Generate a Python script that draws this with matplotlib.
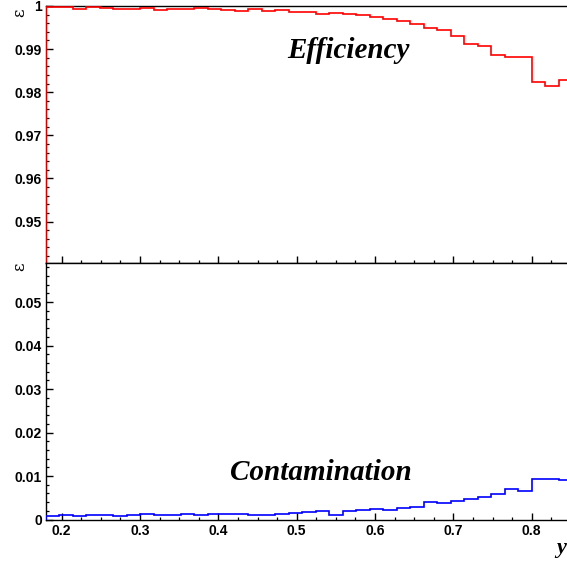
import numpy as np
import matplotlib
matplotlib.use("Agg")
import matplotlib.pyplot as plt
from matplotlib.ticker import FixedLocator, MultipleLocator, FuncFormatter

# binning in y (39 bins, first edge at 0.18)
bin_lo = 0.18
bin_width = 0.62 / 36
n_bins = 39

efficiency = [
    0.9997, 0.9997, 0.9994, 0.9997, 0.9996, 0.9992, 0.9992, 0.9995, 0.9991, 0.9994,
    0.9993, 0.9995, 0.9993, 0.9991, 0.9988, 0.9992, 0.9988, 0.9991, 0.9986, 0.9987,
    0.9981, 0.9984, 0.9981, 0.9978, 0.9974, 0.9970, 0.9966, 0.9958, 0.9950, 0.9944,
    0.9930, 0.9912, 0.9907, 0.9886, 0.9881, 0.9882, 0.9824, 0.9814, 0.9828,
]

contamination = [
    0.0009, 0.0010, 0.0008, 0.00095, 0.00095, 0.0008, 0.0010, 0.0012, 0.0010, 0.00095,
    0.00115, 0.0010, 0.0012, 0.0012, 0.00134, 0.00103, 0.00103, 0.0012, 0.00157, 0.0018,
    0.00195, 0.00103, 0.00195, 0.0022, 0.0023, 0.0022, 0.0026, 0.0029, 0.0041, 0.0037,
    0.0043, 0.0048, 0.0052, 0.0058, 0.0069, 0.0066, 0.0093, 0.0093, 0.0091,
]

x_ticks = [0.2, 0.3, 0.4, 0.5, 0.6, 0.7, 0.8]
eff_ticks = [0.95, 0.96, 0.97, 0.98, 0.99, 1.0]
cont_ticks = [0.0, 0.01, 0.02, 0.03, 0.04, 0.05]

edges = bin_lo + bin_width * np.arange(n_bins + 1)

W, H = 567, 561
fig = plt.figure(figsize=(W / 100, H / 100), dpi=100)

left = 46 / W
right = 1.0
mid = 1 - 262.5 / H
top = 1 - 6 / H
bottom = 1 - 519.5 / H

ax1 = fig.add_axes([left, mid, right - left, top - mid])
ax2 = fig.add_axes([left, bottom, right - left, mid - bottom], sharex=ax1)

eff_lim = (0.9405, 1.0)
cont_lim = (0.0, 0.0591)

ax1.stairs(efficiency, edges, baseline=eff_lim[0], color="#ff0000", lw=1.2, zorder=3)
ax2.stairs(contamination, edges, baseline=0, color="#0000ff", lw=1.2, zorder=3)

ax1.set_xlim(0.18, 0.845)
ax1.set_ylim(*eff_lim)
ax2.set_ylim(*cont_lim)

fmt = FuncFormatter(lambda v, p: "{:g}".format(round(v, 4)))
tick_font = dict(family="Liberation Sans", weight="bold", size=10)

for ax, ticks in ((ax1, eff_ticks), (ax2, cont_ticks)):
    ax.xaxis.set_major_locator(FixedLocator(x_ticks))
    ax.xaxis.set_minor_locator(MultipleLocator(0.025))
    ax.yaxis.set_major_locator(FixedLocator(ticks))
    ax.yaxis.set_minor_locator(MultipleLocator(0.002))
    ax.yaxis.set_major_formatter(fmt)
    ax.xaxis.set_major_formatter(fmt)
    ax.tick_params(which="both", direction="in", top=False, right=False)
    ax.tick_params(which="major", length=4.8, width=1.0, pad=3)
    ax.tick_params(which="minor", length=2.4, width=0.9)
    for lab in ax.get_xticklabels() + ax.get_yticklabels():
        lab.set_fontproperties(tick_font)
    for s in ax.spines.values():
        s.set_linewidth(1.0)
    ax.spines["right"].set_visible(False)

ax1.tick_params(labelbottom=False)

title_font = dict(family="Liberation Serif", weight="bold", style="italic", size=21)
fig.text(287 / W, 1 - 58 / H, "Efficiency", ha="left", va="baseline", **title_font)
fig.text(230 / W, 1 - 480 / H, "Contamination", ha="left", va="baseline", **title_font)

eps_font = dict(family="DejaVu Serif", size=12)
fig.text(20 / W, 1 - 13 / H, "ε", rotation=90, ha="center", va="center", **eps_font)
fig.text(20 / W, 1 - 267 / H, "ε", rotation=90, ha="center", va="center", **eps_font)
fig.text(556 / W, 1 - 548 / H, "y", ha="left", va="center",
         family="Liberation Serif", weight="bold", style="italic", size=16)

fig.savefig("out.png", dpi=100)
